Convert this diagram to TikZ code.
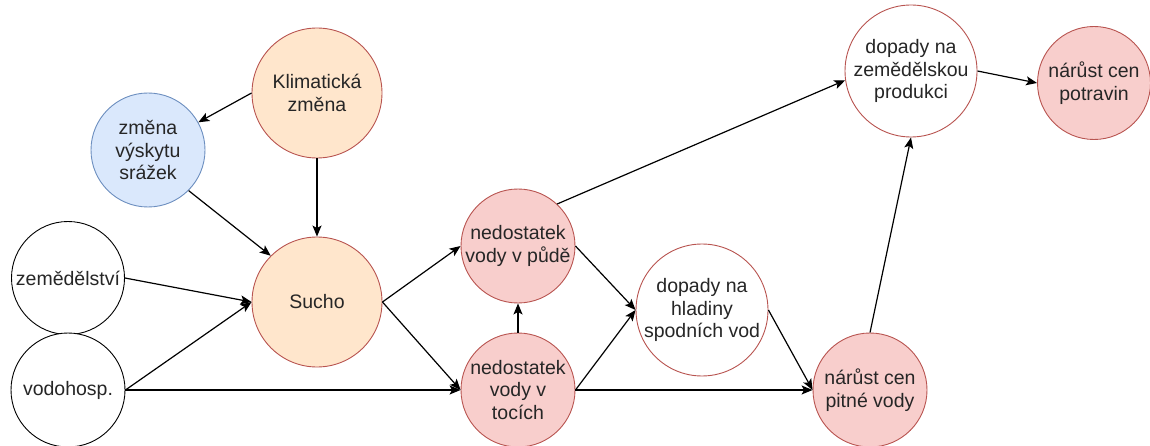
\documentclass[tikz,border=0pt]{standalone}
\usepackage{fontspec}
\setmainfont{Liberation Sans}
\usetikzlibrary{arrows.meta}

\definecolor{orangefill}{HTML}{FFE6CC}
\definecolor{pinkfill}{HTML}{F8CECC}
\definecolor{bluefill}{HTML}{DAE8FC}
\definecolor{redline}{HTML}{B85450}
\definecolor{blueline}{HTML}{6C8EBF}
\definecolor{textgray}{HTML}{262626}

\tikzset{
  bubble/.style={circle, inner sep=0pt, align=center, line width=0.9pt,
    font=\fontsize{19.5}{22.5}\selectfont, text=textgray},
  cause/.style={bubble, fill=orangefill, draw=redline},
  effect/.style={bubble, fill=pinkfill, draw=redline},
  impact/.style={bubble, fill=white, draw=redline},
  rain/.style={bubble, fill=bluefill, draw=blueline},
  human/.style={bubble, fill=white, draw=black},
  link/.style={line width=1.2pt, -{Stealth[length=11pt,width=9pt,inset=2.5pt]}}
}

\begin{document}
\begin{tikzpicture}[x=1pt, y=-1pt]
  \useasboundingbox (0,0) rectangle (1150,446);

  % causes
  \node[cause, minimum size=130pt] (klima) at (317,93) {Klimatická\\změna};
  \node[rain, minimum size=114pt] (zmena) at (148,150) {změna\\výskytu\\srážek};
  \node[human, minimum size=113pt] (zemed) at (68,278) {zemědělství};
  \node[human, minimum size=114pt] (vodo) at (68,390) {vodohosp.};
  \node[cause, minimum size=130pt] (sucho) at (317,302) {Sucho};

  % direct effects
  \node[effect, minimum size=114pt] (pude) at (518,246) {nedostatek\\vody v půdě};
  \node[effect, minimum size=114pt] (toky) at (518,390) {nedostatek\\vody v\\tocích};

  % impacts
  \node[impact, minimum size=130pt] (hlad) at (702,310) {dopady na\\hladiny\\spodních vod};
  \node[effect, minimum size=114pt] (pitne) at (870,390) {nárůst cen\\pitné vody};
  \node[impact, minimum size=132pt] (produkce) at (911,71) {dopady na\\zemědělskou\\produkci};
  \node[effect, minimum size=113pt] (potraviny) at (1094,83) {nárůst cen\\potravin};

  % connectors
  \draw[link] (klima.west) -- (zmena);
  \draw[link] (klima) -- (sucho);
  \draw[link] (zmena.-45) -- (sucho.135);
  \draw[link] (zemed.east) -- (sucho.west);
  \draw[link] (vodo.east) -- (sucho.west);
  \draw[link] (vodo.east) -- (toky.west);
  \draw[link] (sucho.east) -- (pude.west);
  \draw[link] (sucho.east) -- (toky.west);
  \draw[link] (toky.north) -- (pude.south);
  \draw[link] (pude.east) -- (hlad.west);
  \draw[link] (toky.east) -- (hlad.west);
  \draw[link] (toky.east) -- (pitne.west);
  \draw[link] (hlad.east) -- (pitne.west);
  \draw[link] (pude.47) -- (produkce.188);
  \draw[link] (pitne.north) -- (produkce.south);
  \draw[link] (produkce.east) -- (potraviny.west);
\end{tikzpicture}
\end{document}
